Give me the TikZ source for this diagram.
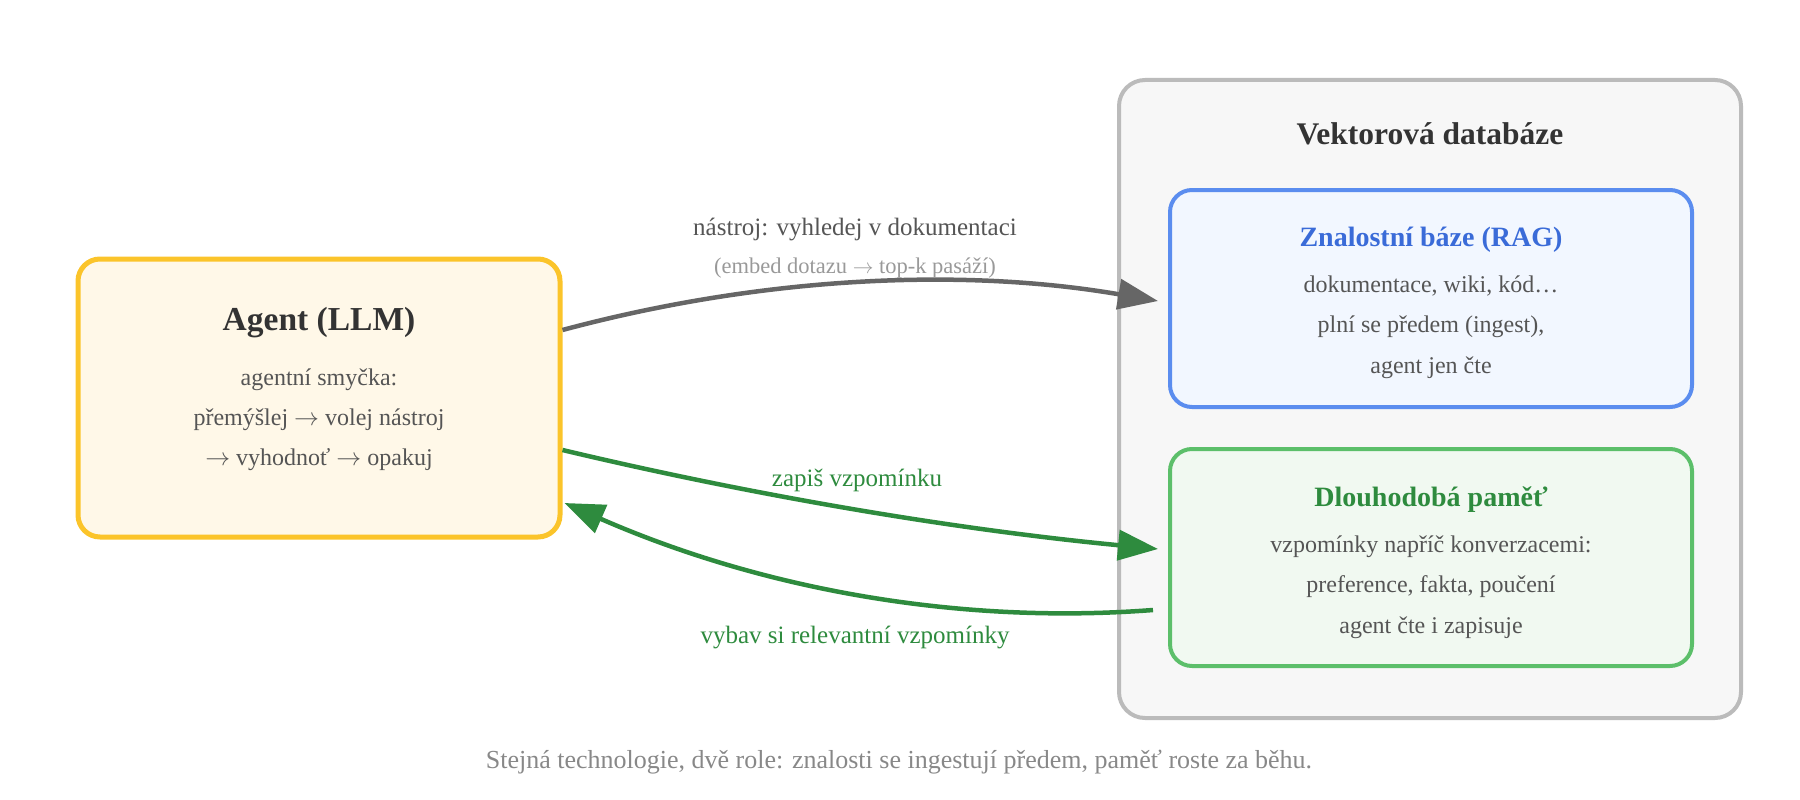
\documentclass[tikz,border=0pt]{standalone}
\usepackage{fontspec}
\setmainfont{Liberation Serif}
\usetikzlibrary{arrows.meta,positioning,calc}

\definecolor{agentfill}{HTML}{FFF8E8}
\definecolor{agentline}{HTML}{FBC42A}
\definecolor{dbfill}{HTML}{F7F7F7}
\definecolor{dbline}{HTML}{BBBBBB}
\definecolor{ragfill}{HTML}{F2F7FF}
\definecolor{ragline}{HTML}{5B8DEF}
\definecolor{ragtext}{HTML}{3A6BD8}
\definecolor{memfill}{HTML}{F1F9F1}
\definecolor{memline}{HTML}{5CBF6A}
\definecolor{memtext}{HTML}{2E8B3E}
\definecolor{darktext}{HTML}{333333}
\definecolor{bodytext}{HTML}{555555}
\definecolor{lighttext}{HTML}{999999}
\definecolor{captext}{HTML}{888888}
\definecolor{toolline}{HTML}{666666}

\newcommand{\arr}{$\rightarrow$}

\begin{document}
\begin{tikzpicture}[
    x=1pt, y=-1pt,
    box/.style={rectangle, rounded corners=22pt, line width=4pt},
    title/.style={anchor=base, inner sep=0pt, font=\bfseries\fontsize{28}{34}\selectfont, text=darktext},
    body/.style={anchor=base, inner sep=0pt, font=\fontsize{24}{29}\selectfont, text=bodytext},
    arrow/.style={-{Triangle[length=40pt,width=30pt]}, line width=4.5pt}
]
    \useasboundingbox (0,0) rectangle (1800,800);

    % boxes
    \node[box, draw=dbline, fill=dbfill, rounded corners=26pt, minimum width=622pt, minimum height=638pt] (db) at (1430,399) {};
    \node[box, draw=agentline, fill=agentfill, line width=5pt, minimum width=482pt, minimum height=278pt] (agent) at (319,398) {};
    \node[box, draw=ragline, fill=ragfill, minimum width=522pt, minimum height=217pt] (rag) at (1431,298.5) {};
    \node[box, draw=memline, fill=memfill, minimum width=522pt, minimum height=217pt] (mem) at (1431,557.5) {};

    % agent
    \node[title, font=\bfseries\fontsize{33.5}{40}\selectfont] (agenttitle) at (319,330) {Agent (LLM)};
    \node[body] (agent1) at (319,385) {agentní smyčka:};
    \node[body] (agent2) at (319,425) {přemýšlej \arr{} volej nástroj};
    \node[body] (agent3) at (319,465) {\arr{} vyhodnoť \arr{} opakuj};

    % vector database
    \node[title, font=\bfseries\fontsize{31.5}{38}\selectfont] (dbtitle) at (1430,144) {Vektorová databáze};
    \node[title, text=ragtext] (ragtitle) at (1431,246) {Znalostní báze (RAG)};
    \node[body] (rag1) at (1431,292) {dokumentace, wiki, kód…};
    \node[body] (rag2) at (1431,332) {plní se předem (ingest),};
    \node[body] (rag3) at (1431,373) {agent jen čte};
    \node[title, text=memtext] (memtitle) at (1431,506) {Dlouhodobá paměť};
    \node[body] (mem1) at (1431,552) {vzpomínky napříč konverzacemi:};
    \node[body] (mem2) at (1431,592) {preference, fakta, poučení};
    \node[body] (mem3) at (1431,633) {agent čte i zapisuje};

    % connectors
    \draw[arrow, toolline] ([yshift=68pt]agent.east) .. controls (760,277) and (960,267) .. ([xshift=-10pt,yshift=-2.5pt]rag.west);
    \draw[arrow, memtext] ([yshift=-52pt]agent.east) .. controls (760,497) and (960,530) .. ([xshift=-10pt,yshift=8.5pt]mem.west);
    \draw[arrow, memtext] ([xshift=-15pt,yshift=-52.5pt]mem.west) .. controls (958,625) and (761,589) .. ([xshift=2pt,yshift=-105pt]agent.east);

    % connector labels
    \node[body, font=\fontsize{25}{30}\selectfont] (toollabel) at (855,235) {nástroj: vyhledej v dokumentaci};
    \node[body, text=lighttext, font=\fontsize{22.5}{27}\selectfont] (toolsub) at (855,273) {(embed dotazu \arr{} top-k pasáží)};
    \node[body, text=memtext, font=\fontsize{25}{30}\selectfont] (writelabel) at (857,486) {zapiš vzpomínku};
    \node[body, text=memtext, font=\fontsize{25}{30}\selectfont] (recalllabel) at (855,643) {vybav si relevantní vzpomínky};

    % caption
    \node[body, text=captext, font=\fontsize{26}{31}\selectfont] (caption) at (899,768) {Stejná technologie, dvě role: znalosti se ingestují předem, paměť roste za běhu.};
\end{tikzpicture}
\end{document}
